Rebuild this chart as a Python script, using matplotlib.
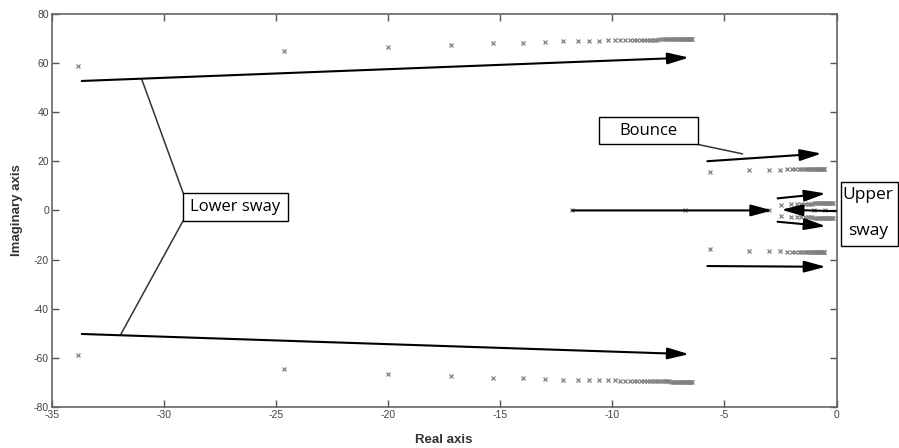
import matplotlib
matplotlib.use("Agg")
import matplotlib.pyplot as plt
from matplotlib.patches import Rectangle

plt.rcParams['axes.unicode_minus'] = False
plt.rcParams['font.family'] = ['Liberation Sans', 'DejaVu Sans']

# Lower sway branch (upper half, conjugate mirrored below)
ls_re = [-33.84, -24.66, -20.02, -17.19, -15.33, -13.99, -12.99, -12.19, -11.55,
         -11.04, -10.60, -10.20, -9.90, -9.64, -9.42, -9.22, -9.04, -8.88, -8.73,
         -8.59, -8.46, -8.34, -8.22, -8.11, -8.00, -7.90, -7.80, -7.71, -7.62,
         -7.54, -7.46, -7.38, -7.31, -7.24, -7.17, -7.11, -7.05, -6.99, -6.93,
         -6.88, -6.83, -6.78, -6.73, -6.68, -6.64, -6.60, -6.56, -6.52, -6.48, -6.44]
ls_im = [58.8, 64.6, 66.5, 67.3, 67.9, 68.2, 68.5, 68.7, 68.8,
         68.9, 69.0, 69.1, 69.1, 69.2, 69.2, 69.2, 69.3, 69.3, 69.3,
         69.3, 69.4, 69.4, 69.4, 69.4, 69.4, 69.5, 69.5, 69.5, 69.5,
         69.5, 69.5, 69.6, 69.6, 69.6, 69.6, 69.6, 69.6, 69.7, 69.7,
         69.7, 69.7, 69.7, 69.7, 69.8, 69.8, 69.8, 69.8, 69.8, 69.8, 69.8]

# Bounce branch
b_re = [-5.64, -3.90, -3.00, -2.53, -2.22, -2.00, -1.83, -1.69, -1.57, -1.47,
        -1.38, -1.30, -1.22, -1.15, -1.09, -1.03, -0.97, -0.92, -0.87, -0.82,
        -0.78, -0.74, -0.70, -0.66, -0.62, -0.58, -0.54]
b_im = [15.8, 16.3, 16.5, 16.6, 16.7, 16.7, 16.8, 16.8, 16.8, 16.9,
        16.9, 16.9, 16.9, 16.9, 17.0, 17.0, 17.0, 17.0, 17.0, 17.0,
        17.0, 17.0, 17.0, 17.0, 17.0, 17.0, 17.0]

# Upper sway branch
us_re = [-2.47, -2.05, -1.78, -1.58, -1.42, -1.29, -1.18, -1.08, -0.99, -0.91,
         -0.84, -0.77, -0.71, -0.65, -0.59, -0.54, -0.49, -0.44, -0.39, -0.34,
         -0.29, -0.24, -0.19, -0.15]
us_im = [2.2, 2.6, 2.7, 2.7, 2.8, 2.8, 2.8, 2.8, 2.9, 2.9,
         2.9, 2.9, 2.9, 2.9, 2.9, 2.9, 3.0, 3.0, 3.0, 3.0,
         3.0, 3.0, 3.0, 3.0]

# Real axis poles
r_re = [-11.8, -6.75, -3.0, -1.02, -0.53]
r_im = [0, 0, 0, 0, 0]

fig = plt.figure(figsize=(8.99, 4.48), dpi=100)
ax = fig.add_axes([0.0575, 0.0908, 0.873, 0.879])

mk = dict(marker='x', linestyle='none', color='#808080', markersize=3.2, mew=0.9)
ax.plot(ls_re, ls_im, **mk)
ax.plot(ls_re, [-v for v in ls_im], **mk)
ax.plot(b_re, b_im, **mk)
ax.plot(b_re, [-v for v in b_im], **mk)
ax.plot(us_re, us_im, **mk)
ax.plot(us_re, [-v for v in us_im], **mk)
ax.plot(r_re, r_im, **mk)

# Arrows showing direction of pole movement
arrows = [
    ((-33.66, 52.6), (-6.58, 62.1)),
    ((-33.66, -50.2), (-6.58, -58.4)),
    ((-5.76, 20.0), (-0.67, 23.1)),
    ((-5.76, -22.6), (-0.48, -22.9)),
    ((-2.63, 4.9), (-0.48, 6.9)),
    ((-2.63, -4.6), (-0.48, -6.4)),
    ((-11.79, 0.0), (-2.86, 0.0)),
    ((-0.03, -0.3), (-2.46, 0.3)),
]
for start, end in arrows:
    ax.annotate('', xy=end, xytext=start,
                arrowprops=dict(arrowstyle='-|>,head_length=1.3,head_width=0.35',
                                lw=1.5, color='black', shrinkA=0, shrinkB=0,
                                mutation_scale=10))

# Callouts
ax.plot([-29.14, -30.98], [7.15, 53.2], color='#333333', lw=1.1)
ax.plot([-29.14, -31.92], [-4.2, -50.4], color='#333333', lw=1.1)
ax.add_patch(Rectangle((-29.14, -4.2), 4.66, 11.35, fc='white', ec='black', lw=1, zorder=5))
ax.text(-26.81, 1.5, 'Lower sway', ha='center', va='center', fontsize=12,
        family=['Open Sans'], zorder=6)

ax.plot([-6.18, -4.2], [26.8, 23.0], color='#333333', lw=1.1)
ax.add_patch(Rectangle((-10.60, 26.8), 4.42, 11.2, fc='white', ec='black', lw=1, zorder=5))
ax.text(-8.39, 32.4, 'Bounce', ha='center', va='center', fontsize=12,
        family=['Open Sans'], zorder=6)

fig.patches.append(Rectangle((840.7 / 899, 1 - 246 / 448), 57 / 899, 64.3 / 448,
                             transform=fig.transFigure, fc='white', ec='black', lw=1))
fig.text(868 / 899, 1 - 195 / 448, 'Upper', ha='center', va='center', fontsize=12.5,
         family=['Open Sans'])
fig.text(868 / 899, 1 - 231 / 448, 'sway', ha='center', va='center', fontsize=12.5,
         family=['Open Sans'])

ax.set_xlim(-35, 0)
ax.set_ylim(-80, 80)
ax.set_xticks(range(-35, 1, 5))
ax.set_yticks(range(-80, 81, 20))
ax.tick_params(direction='in', top=True, right=True, length=5, width=1,
               color='#555555', labelsize=7.5, labelcolor='#444444', pad=2)
for s in ax.spines.values():
    s.set_color('#666666')
    s.set_linewidth(1.2)

ax.set_xlabel('Real axis', fontsize=9.5, fontweight='bold', color='#333333', labelpad=10)
ax.set_ylabel('Imaginary axis', fontsize=9.5, fontweight='bold', color='#333333', labelpad=8)

fig.savefig('out.png', dpi=100)
